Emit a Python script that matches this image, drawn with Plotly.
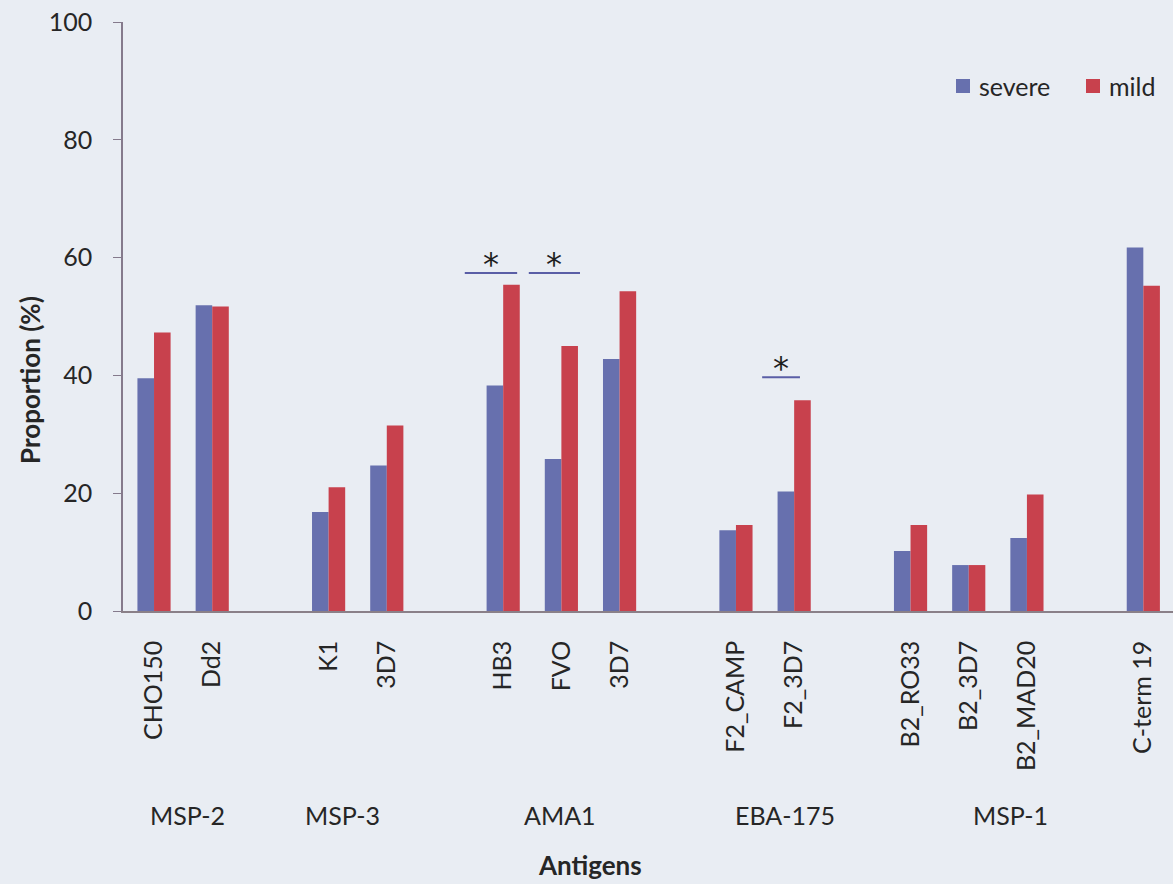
import plotly.graph_objects as go

# Antigen blocks (one empty slot is left between consecutive blocks)
blocks = [
    ["CHO150", "Dd2"],
    ["K1", "3D7"],
    ["HB3", "FVO", "3D7"],
    ["F2_CAMP", "F2_3D7"],
    ["B2_RO33", "B2_3D7", "B2_MAD20"],
    ["C-term 19"],
]
severe = [39.5, 51.9, 16.8, 24.7, 38.3, 25.8, 42.8, 13.7, 20.3, 10.2, 7.8, 12.4, 61.7]
mild = [47.3, 51.7, 21.0, 31.5, 55.4, 45.0, 54.3, 14.6, 35.8, 14.6, 7.8, 19.8, 55.2]
group_names = ["MSP-2", "MSP-3", "AMA1", "EBA-175", "MSP-1"]
y_ticks = [0, 20, 40, 60, 80, 100]

# slot positions on the x axis
antigens, slots = [], []
pos = 0
for b in blocks:
    for name in b:
        antigens.append(name)
        slots.append(pos)
        pos += 1
    pos += 1

W, H = 1173, 884
ML, MR, MT, MB = 123, 0, 22, 273
PW, PH = W - ML - MR, H - MT - MB


def px(x):
    """page x pixel -> paper fraction"""
    return (x - ML) / PW


def py(y):
    """page y pixel -> paper fraction"""
    return (H - MB - y) / PH


FONT = "Lato"
TXT = "#262626"
BG = "#e9edf3"
SEV_C = "#6770ae"
MILD_C = "#c8414d"

fig = go.Figure()
fig.add_trace(go.Bar(x=slots, y=severe, name="severe", marker=dict(color=SEV_C, line=dict(width=0))))
fig.add_trace(go.Bar(x=slots, y=mild, name="mild", marker=dict(color=MILD_C, line=dict(width=0))))

shapes = []
annotations = []

# significance brackets: (index of antigen, left offset, right offset, line level)
sig = [(4, -0.66, 0.24, 57.4), (5, -0.56, 0.32, 57.4), (8, -0.55, 0.10, 39.7)]
for idx, a, b, lvl in sig:
    s = slots[idx]
    shapes.append(dict(type="line", xref="x", yref="y", x0=s + a, x1=s + b, y0=lvl, y1=lvl,
                       line=dict(color="#5a5ea6", width=2)))
    annotations.append(dict(x=s + (a + b) / 2, y=lvl, xref="x", yref="y", text="*",
                            showarrow=False, yanchor="middle", yshift=9,
                            font=dict(family="DejaVu Sans", size=32, color="#1e1e1e")))

# legend keys drawn in the upper right corner
for (label, col, x_key) in (("severe", SEV_C, 956), ("mild", MILD_C, 1086)):
    shapes.append(dict(type="rect", xref="paper", yref="paper",
                       x0=px(x_key), x1=px(x_key + 14), y0=py(93), y1=py(79),
                       fillcolor=col, line=dict(width=0)))
    annotations.append(dict(x=px(x_key + 21), y=py(86), xref="paper", yref="paper", text=label,
                            showarrow=False, xanchor="left", yanchor="middle",
                            font=dict(family=FONT, size=25, color=TXT)))

# group labels under the antigen names
group_x = [0.58, 3.24, 6.98, 10.85, 14.72]
for name, gx in zip(group_names, group_x):
    annotations.append(dict(x=gx, y=py(815), xref="x", yref="paper", text=name, showarrow=False,
                            xanchor="center", yanchor="middle",
                            font=dict(family=FONT, size=25, color=TXT)))

annotations.append(dict(x=7.49, y=py(865), xref="x", yref="paper", text="<b>Antigens</b>",
                        showarrow=False, xanchor="center", yanchor="middle",
                        font=dict(family=FONT, size=26, color=TXT)))
annotations.append(dict(x=px(30), y=py(380), xref="paper", yref="paper", text="<b>Proportion (%)</b>",
                        showarrow=False, textangle=-90, xanchor="center", yanchor="middle",
                        font=dict(family=FONT, size=26, color=TXT)))

fig.update_layout(
    width=W, height=H,
    margin=dict(l=ML, r=MR, t=MT, b=MB),
    paper_bgcolor=BG, plot_bgcolor=BG,
    barmode="group", bargap=0.43, bargroupgap=0,
    font=dict(family=FONT, color=TXT),
    showlegend=False,
    shapes=shapes,
    annotations=annotations,
)
fig.update_xaxes(
    range=[-0.533, 17.51], tickmode="array", tickvals=slots, ticktext=antigens,
    tickangle=-90, ticks="", showgrid=False, zeroline=False,
    showline=True, linecolor="#8a8088", linewidth=1.5,
    tickfont=dict(family=FONT, size=25, color=TXT), ticklabelstandoff=18,
)
fig.update_yaxes(
    range=[0, 100], tickvals=y_ticks, ticks="outside", ticklen=8, tickcolor="#857a8c",
    showgrid=False, zeroline=False, showline=True, linecolor="#857a8c", linewidth=1.5,
    tickfont=dict(family=FONT, size=25, color=TXT), ticklabelstandoff=16,
)

fig.write_html("out.html")
